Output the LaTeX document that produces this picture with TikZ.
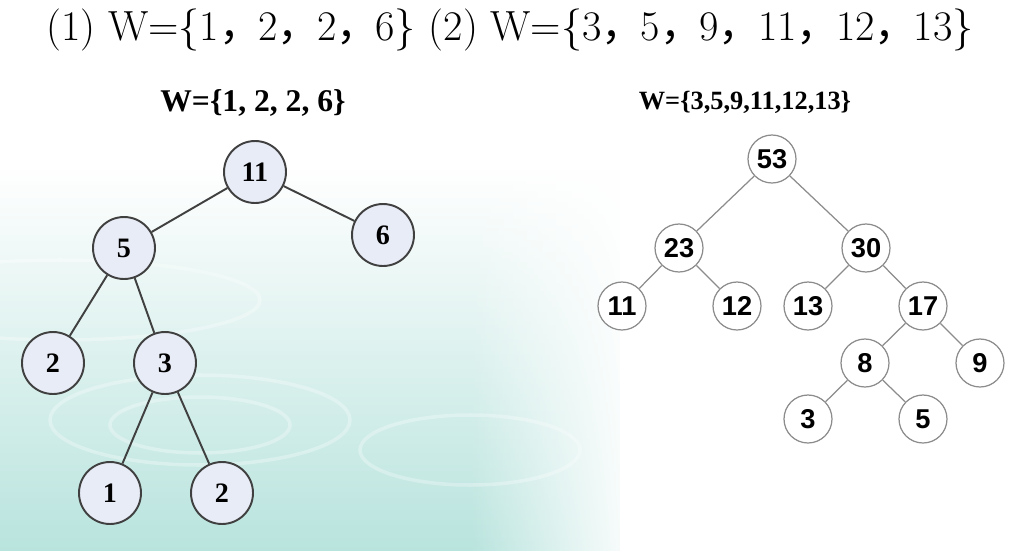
\documentclass[tikz,border=0pt]{standalone}
\usepackage{fontspec}
\newfontfamily\cjk{Noto Sans CJK SC}
\newfontfamily\timesfont{Liberation Serif}
\newfontfamily\arialfont{Liberation Sans}
\usetikzlibrary{fadings}
\definecolor{nodeblue}{RGB}{232,236,246}
\definecolor{water}{RGB}{185,228,222}
\newcommand{\zhcomma}{\makebox[0.93em][l]{\cjk ，}}

\begin{document}
\begin{tikzpicture}[x=0.02cm,y=-0.02cm,
  lnode/.style={circle,draw=black!75,line width=1.1pt,fill=nodeblue,minimum size=1.24cm,inner sep=0pt,font=\timesfont\bfseries\fontsize{16}{16}\selectfont},
  rnode/.style={circle,draw=black!45,line width=0.7pt,fill=white,minimum size=0.96cm,inner sep=0pt,font=\arialfont\bfseries\fontsize{15.5}{16}\selectfont},
  ledge/.style={draw=black!75,line width=1.1pt},
  redge/.style={draw=black!45,line width=0.7pt},
  ripple/.style={white,opacity=.3,line width=2pt}]
\useasboundingbox (0,0) rectangle (1032,551);
\fill[white] (0,0) rectangle (1032,551);
% water background
\fill[water,path fading=north] (0,170) rectangle (620,551);
\fill[white,path fading=west] (470,170) rectangle (640,551);
\draw[ripple] (200,420) ellipse (150 and 45);
\draw[ripple] (200,425) ellipse (90 and 28);
\draw[ripple] (470,450) ellipse (110 and 35);
\draw[ripple] (60,300) ellipse (200 and 40);

% heading
\node[font=\fontsize{24}{26}\selectfont] (head) at (510,30) {(1) W=\{1\zhcomma 2\zhcomma 2\zhcomma 6\} (2) W=\{3\zhcomma 5\zhcomma 9\zhcomma 11\zhcomma 12\zhcomma 13\}};

% tree (1)
\node[font=\timesfont\bfseries\fontsize{18}{18}\selectfont] (ltitle) at (253,103) {W=\{1, 2, 2, 6\}};
\node[lnode] (l11) at (255,172) {11};
\node[lnode] (l6) at (383,235) {6};
\node[lnode] (l5) at (124,248) {5};
\node[lnode] (l2a) at (53,363) {2};
\node[lnode] (l3) at (165,363) {3};
\node[lnode] (l1) at (110,493) {1};
\node[lnode] (l2b) at (222,493) {2};
\foreach \a/\b in {l11/l5,l11/l6,l5/l2a,l5/l3,l3/l1,l3/l2b}
  \draw[ledge] (\a) -- (\b);

% tree (2)
\node[font=\timesfont\bfseries\fontsize{15}{15}\selectfont] (rtitle) at (745,102) {W=\{3,5,9,11,12,13\}};
\node[rnode] (r53) at (772,159) {53};
\node[rnode] (r23) at (679,248) {23};
\node[rnode] (r30) at (866,248) {30};
\node[rnode] (r11) at (622,306) {11};
\node[rnode] (r12) at (737,306) {12};
\node[rnode] (r13) at (808,306) {13};
\node[rnode] (r17) at (923,306) {17};
\node[rnode] (r8) at (865,363) {8};
\node[rnode] (r9) at (980,363) {9};
\node[rnode] (r3) at (808,419) {3};
\node[rnode] (r5) at (923,419) {5};
\foreach \a/\b in {r53/r23,r53/r30,r23/r11,r23/r12,r30/r13,r30/r17,r17/r8,r17/r9,r8/r3,r8/r5}
  \draw[redge] (\a) -- (\b);
\end{tikzpicture}
\end{document}
